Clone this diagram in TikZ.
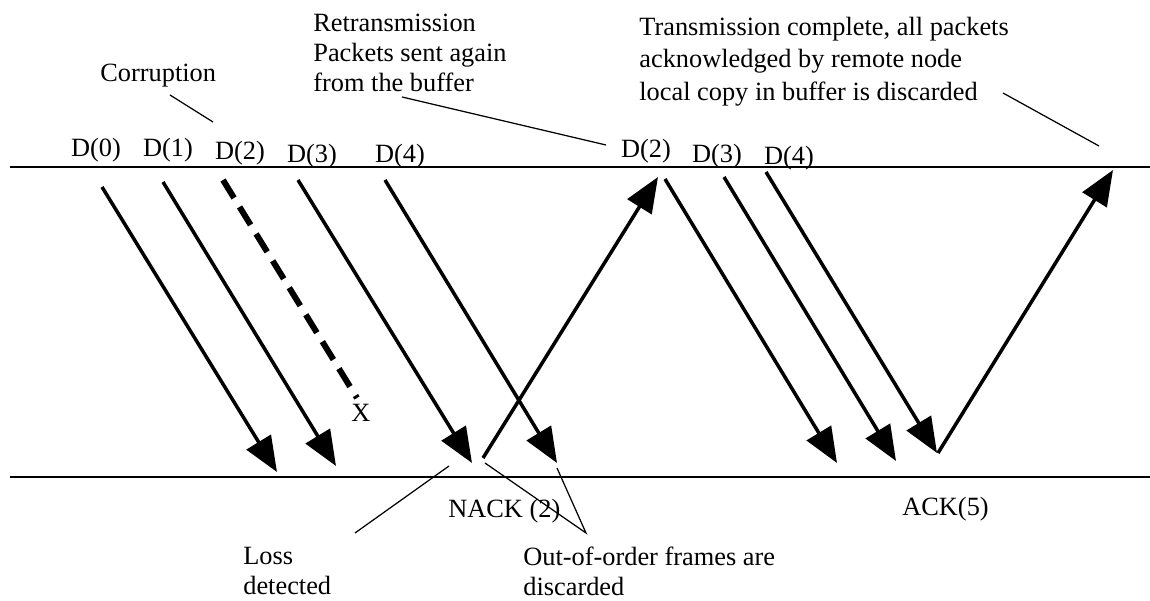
\documentclass[tikz,border=0pt]{standalone}
\usepackage{fontspec}
\setmainfont{Liberation Serif}
\usetikzlibrary{arrows.meta,positioning}

\tikzset{
  lbl/.style={font=\fontsize{15}{17}\selectfont, inner sep=0pt},
  pkt/.style={line width=2pt, -{Triangle[length=20pt,width=16pt]}},
  lost/.style={line width=3.4pt, dash pattern=on 12pt off 6pt},
  lead/.style={line width=0.7pt},
  link/.style={line width=1.1pt}
}

\begin{document}
\begin{tikzpicture}[x=0.02cm, y=-0.02cm]
    \useasboundingbox (0,0) rectangle (1150,601);

    % the two nodes of the link
    \coordinate (topL) at (10,167);
    \coordinate (topR) at (1150,167);
    \coordinate (botL) at (10,477);
    \coordinate (botR) at (1150,477);
    \draw[link] (topL) -- (topR);
    \draw[link] (botL) -- (botR);

    % first window of frames
    \node[lbl, anchor=base] (d0) at (96,157) {D(0)};
    \node[lbl, anchor=base] (d1) at (168,157) {D(1)};
    \node[lbl, anchor=base] (d2) at (240,160) {D(2)};
    \node[lbl, anchor=base] (d3) at (312,163) {D(3)};
    \node[lbl, anchor=base] (d4) at (400,163) {D(4)};

    \coordinate (s0) at (102,187);  \coordinate (e0) at (277,472);
    \coordinate (s1) at (163,182);  \coordinate (e1) at (336,466);
    \coordinate (s2) at (223,180);  \coordinate (e2) at (357,398);
    \coordinate (s3) at (298,180);  \coordinate (e3) at (472,463);
    \coordinate (s4) at (385,180);  \coordinate (e4) at (557,463);
    \draw[pkt] (s0) -- (e0);
    \draw[pkt] (s1) -- (e1);
    \draw[lost] (s2) -- (e2);
    \draw[pkt] (s3) -- (e3);
    \draw[pkt] (s4) -- (e4);
    \node[lbl] (x) at (361,413) {X};

    % NACK and retransmission
    \coordinate (nk) at (483,458);
    \coordinate (nkTip) at (658,177);
    \draw[pkt] (nk) -- (nkTip);
    \node[lbl, anchor=base west] (nack) at (448,517) {NACK (2)};

    \node[lbl, anchor=base] (r2) at (646,158) {D(2)};
    \node[lbl, anchor=base] (r3) at (717,163) {D(3)};
    \node[lbl, anchor=base] (r4) at (789,165) {D(4)};

    \coordinate (t2) at (665,179);  \coordinate (f2) at (837,463);
    \coordinate (t3) at (724,177);  \coordinate (f3) at (896,461);
    \coordinate (t4) at (766,172);  \coordinate (f4) at (937,453);
    \draw[pkt] (t2) -- (f2);
    \draw[pkt] (t3) -- (f3);
    \draw[pkt] (t4) -- (f4);

    % ACK
    \coordinate (ak) at (938,453);
    \coordinate (akTip) at (1113,170);
    \draw[pkt] (ak) -- (akTip);
    \node[lbl, anchor=base west] (ack) at (902,515) {ACK(5)};

    % notes
    \node[lbl, anchor=base west] (corr) at (100,82) {Corruption};
    \coordinate (corrA) at (170,95);
    \coordinate (corrB) at (213,122);
    \draw[lead] (corrA) -- (corrB);

    \node[lbl, anchor=north west, align=left] (retx) at (313,14)
        {Retransmission\\Packets sent again\\from the buffer};
    \coordinate (retxA) at (402,97);
    \coordinate (retxB) at (606,145);
    \draw[lead] (retxA) -- (retxB);

    \node[lbl, anchor=north west, align=left, font=\fontsize{15}{18.4}\selectfont] (done) at (639,17)
        {Transmission complete, all packets\\acknowledged by remote node\\local copy in buffer is discarded};
    \coordinate (doneA) at (1003,93);
    \coordinate (doneB) at (1099,146);
    \draw[lead] (doneA) -- (doneB);

    \node[lbl, anchor=north west, align=left] (loss) at (243,547)
        {Loss\\detected};
    \coordinate (lossA) at (449,466);
    \coordinate (lossB) at (355,533);
    \draw[lead] (lossA) -- (lossB);

    \node[lbl, anchor=north west, align=left] (ooo) at (523,547)
        {Out-of-order frames are\\discarded};
    \coordinate (oooA) at (485,463);
    \coordinate (oooB) at (557,468);
    \coordinate (oooC) at (586,533);
    \draw[lead] (oooA) -- (oooC) -- (oooB);
\end{tikzpicture}
\end{document}
